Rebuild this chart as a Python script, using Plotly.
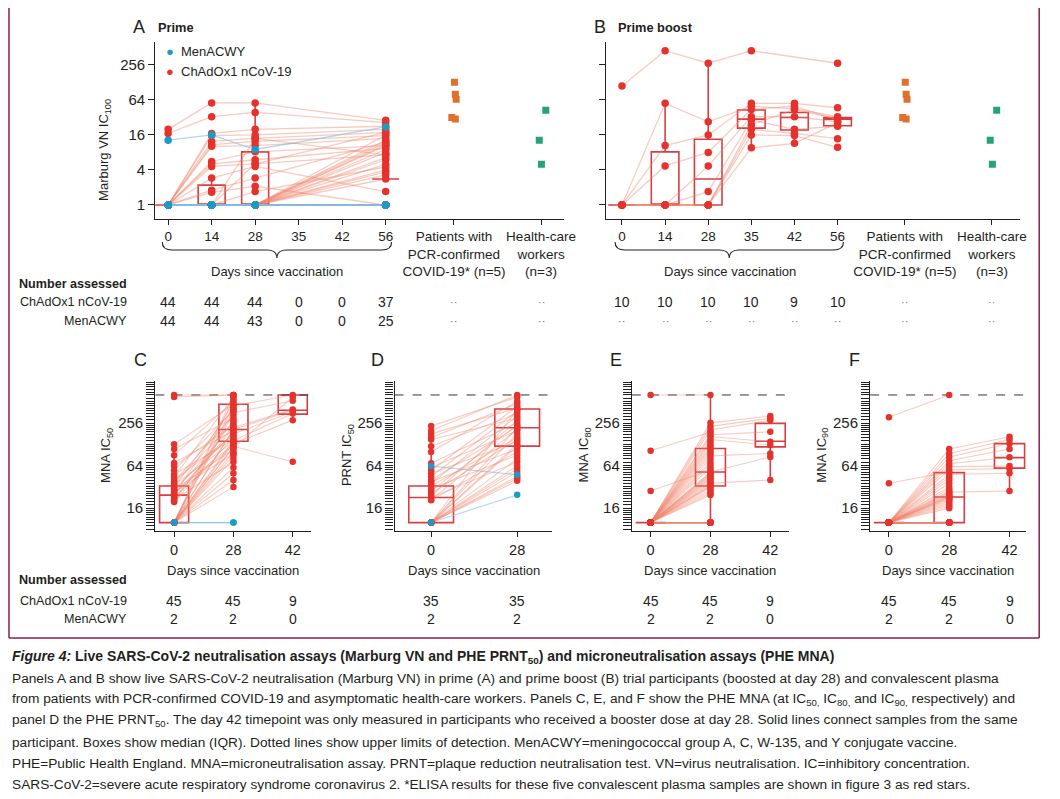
import plotly.graph_objects as go

W, H = 1060, 799
OFF = 8  # page body margin in the browser
FT = "Liberation Sans, Arial, sans-serif"
FN = "Liberation Sans, Arial, sans-serif"
INK = "#231f20"
RED = "#e5322c"
BLUE = "#1d9bc5"
RED_LINE = "rgba(239,130,105,0.42)"
BLUE_LINE = "rgba(120,190,225,0.6)"
BOX_RED = "rgba(212,40,45,0.9)"
ORANGE = "#e0702b"
GREEN = "#25a27a"
FRAME = "#8d1d4c"

# ============================ DATA ============================
# ---- Panel A: prime, Marburg VN IC100 (one entry per participant)
a_days = ["0", "14", "28", "35", "42", "56"]
conv_groups = ["Patients with<br>PCR-confirmed<br>COVID-19* (n=5)", "Health-care<br>workers<br>(n=3)"]

a_chad_d0 = [20, 17, 1, 1, 1, 1, 1, 1, 1, 1,
             1, 1, 1, 1, 1, 1, 1, 1, 1, 1,
             1, 1, 1, 1, 1, 1, 1, 1, 1, 1,
             1, 1, 1, 1, 1, 1, 1, 1, 1, 1,
             1, 1, 1, 1]
a_chad_d14 = [57, 33, 17, 15.6, 12.4, 10.9, 10.2, 5.6, 5.1, 4.6,
              2.9, 1.8, 1.65, 1, 1, 1, 1, 1, 1, 1,
              1, 1, 1, 1, 1, 1, 1, 1, 1, 1,
              1, 1, 1, 1, 1, 1, 1, 1, 1, 1,
              1, 1, 1, 1]
a_chad_d28 = [57, 39, 20, 16, 14, 12.4, 10.5, 8.2, 6, 5.1,
              4.6, 2.9, 2.1, 1.7, 14, 1, 1, 1, 1, 5.1,
              1, 1, 1, 1, 1, 1, 1, 1, 1, 1,
              1, 1, 1, 1, 1, 1, 1, 1, 1, 1,
              1, 1, 1, 1]
# day 56 measured in the first 37 participants
a_chad_d56 = [28.6, 26, 22.6, 20, 17.8, 15.6, 14, 10.5, 9.4, 7.3,
              1.7, 12, 1, 4.5, 7.3, 10.5, 6, 3.7, 2.8, 17.8,
              5, 8, 11, 13, 16, 9, 4, 6.5, 3.3, 12,
              1, 1, 1, 1, 1, 1, 1]
a_men_d0 = [13, 1, 1, 1, 1, 1, 1, 1]
a_men_d14 = [16, 1, 1, 1, 1, 1, 1, 1]
a_men_d28 = [9, 1, 1, 1, 1, 1, 1]
a_men_d56 = [22, 1, 1, 1, 1]

a_box_days = ["0", "14", "28", "56"]
a_box_q1 = [1, 1, 1, 3.7]
a_box_med = [1, 1, 1, 2.8]
a_box_q3 = [1, 2.2, 8.2, 14.8]
a_box_lo = [1, 1, 1, 3.7]
a_box_hi = [1, 2.9, 57, 14.8]

# convalescent plasma (shared by panels A and B)
conv_pcr = [129, 80, 66, 32, 30]
conv_pcr_jitter = [0.01, 0.03, 0.05, -0.05, 0.03]
conv_hcw = [42.5, 13, 5]
conv_hcw_jitter = [0.11, -0.04, 0.01]

a_n_chad = ["44", "44", "44", "0", "0", "37", "··", "··"]
a_n_men = ["44", "44", "43", "0", "0", "25", "··", "··"]

# ---- Panel B: prime boost, Marburg VN IC100
b_days = ["0", "14", "28", "35", "42", "56"]
b_d0 = [111, 1, 1, 1, 1, 1, 1, 1, 1, 1]
b_d14 = [450, 56, 10.5, 4.7, 1, 1, 1, 1, 1, 1]
b_d28 = [274, 27, 16, 8, 4.7, 1.7, 1, 1, 1, 1]
b_d35 = [450, 50, 56, 44, 33, 29, 24, 20, 16, 9.6]
b_d42 = [None, 45, 56, 50, 33, 20, 44, 17, 15.6, 11.5]
b_d56 = [274, 33, 47, 29, 27, 22.6, 30, 13.8, 9.8, 26]

b_box_q1 = [1, 1, 1, 21, 19.5, 23]
b_box_med = [1, 1, 2.8, 30, 32, 30]
b_box_q3 = [1, 8.2, 13.5, 43, 39, 32]
b_box_lo = [1, 1, 1, 9.6, 11.5, 23]
b_box_hi = [1, 56, 274, 56, 56, 32]

b_n_chad = ["10", "10", "10", "10", "9", "10", "··", "··"]
b_n_men = ["··", "··", "··", "··", "··", "··", "··", "··"]

# ---- Panels C-F (days 0, 28, 42); first 9 participants were boosted (day 42)
cf_days = ["0", "28", "42"]
d_days = ["0", "28"]
ulod = 640

c_d0 = [10, 10, 22, 10, 30, 10, 26, 10, 10,
        640, 600, 128, 110, 90, 70, 63, 55, 48, 44, 40, 38, 36, 34, 32, 29, 28, 27, 25, 24, 23, 21, 20, 19.6,
        10, 10, 10, 10, 10, 10, 10, 10, 10, 10, 10, 10]
c_d28 = [450, 360, 220, 208, 180, 145, 130, 120, 115,
         640, 640, 470, 300, 520, 200, 240, 380, 150, 600, 170, 330, 260, 140, 420, 110, 230, 95, 190, 480, 125, 72, 280, 160,
         400, 135, 210, 640, 560, 100, 90, 80, 60, 50, 40, 32]
c_d42 = [640, 530, 400, 390, 370, 350, 282, 72.5, 600]
c_men_d0 = [10, 10]
c_men_d28 = [10, 10]
c_box = dict(q1=[10, 142, 343], med=[24.5, 208, 390], q3=[33, 474, 640], lo=[10, 32, 282], hi=[128, 640, 640])

d_d0 = [232, 200, 180, 160, 150, 120, 100, 69, 60, 55, 50, 45, 40, 38, 36, 33, 30, 28, 26, 24, 22.7, 21, 20.7,
        10, 10, 10, 10, 10, 10, 10, 10, 10, 10, 10, 10]
d_d28 = [600, 640, 420, 480, 300, 350, 520, 260, 200, 440, 140, 380, 230, 110, 320, 160, 90, 240, 150, 280,
         72, 210, 100, 400, 180, 130, 121, 80, 64, 220, 58, 52, 45, 42, 39]
d_men_d0 = [63, 10]
d_men_d28 = [47.5, 24.7]
d_box = dict(q1=[10, 121], med=[22.7, 220], q3=[33, 405], lo=[10, 39], hi=[232, 640])

e_d0 = [10, 10, 10, 10, 10, 10, 10, 10, 10,
        640, 104, 28, 10, 10, 10, 10, 10, 10, 10, 10, 10, 10, 10, 10, 10, 10, 10, 10, 10, 10,
        10, 10, 10, 10, 10, 10, 10, 10, 10, 10, 10, 10, 10, 10, 10]
e_d28 = [258, 230, 205, 175, 165, 150, 88, 52, 36,
         640, 190, 56, 140, 130, 120, 112, 104, 96, 80, 72, 66, 60, 50, 48, 46, 44, 42, 40, 38,
         34, 33, 32, 30, 28, 26, 24.5, 10, 10, 10, 10, 10, 10, 10, 10, 10]
e_d42 = [322, 300, 280, 193, 139, 125, 95, 85, 40]
e_men_d0 = [10, 10]
e_men_d28 = [10, 10]
e_box = dict(q1=[10, 33, 118], med=[10, 52, 142], q3=[10, 112, 254], lo=[10, 10, 40], hi=[10, 640, 322])

f_d0 = [10, 10, 10, 10, 10, 10, 10, 10, 10,
        309, 36, 10, 10, 10, 10, 10, 10, 10, 10, 10, 10, 10, 10, 10, 10, 10, 10, 10, 10, 10,
        10, 10, 10, 10, 10, 10, 10, 10, 10, 10, 10, 10, 10, 10, 10]
f_d28 = [110, 95, 85, 75, 68, 62, 56, 48, 27,
         640, 52, 44, 40, 36, 32, 30, 28, 26, 25, 24, 23.5, 23, 22.5, 22, 21, 20, 19, 18, 17, 16,
         10, 10, 10, 10, 10, 10, 10, 10, 10, 10, 10, 10, 10, 10, 10]
f_d42 = [164, 150, 132, 110, 84, 63, 58, 50, 28]
f_men_d0 = [10, 10]
f_men_d28 = [10, 10]
f_box = dict(q1=[10, 10, 59], med=[10, 23, 83], q3=[10, 51, 131], lo=[10, 10, 28], hi=[10, 51, 164])

c_n_chad, c_n_men = ["45", "45", "9"], ["2", "2", "0"]
d_n_chad, d_n_men = ["35", "35"], ["2", "2"]
e_n_chad, e_n_men = ["45", "45", "9"], ["2", "2", "0"]
f_n_chad, f_n_men = ["45", "45", "9"], ["2", "2", "0"]

# ============================ HELPERS ============================
def X(p):
    return (p - OFF) / W


def Y(p):
    return 1 - (p - OFF) / H


def get(col, i):
    return col[i] if i < len(col) else None


def lines_trace(cols, pos, color, width, ax):
    n = max(len(c) for c in cols)
    xs, ys = [], []
    for i in range(n):
        for p, col in zip(pos, cols):
            v = get(col, i)
            if v is not None:
                xs.append(p)
                ys.append(v)
        xs.append(None)
        ys.append(None)
    return go.Scatter(x=xs, y=ys, mode="lines", line=dict(color=color, width=width),
                      xaxis=ax[0], yaxis=ax[1], hoverinfo="skip", showlegend=False)


def dots_trace(cols, pos, color, size, ax, symbol="circle", jitter=None):
    xs, ys = [], []
    for p, col in zip(pos, cols):
        for k, v in enumerate(col):
            if v is not None:
                xs.append(p + (jitter[k] if jitter else 0))
                ys.append(v)
    return go.Scatter(x=xs, y=ys, mode="markers",
                      marker=dict(color=color, size=size, symbol=symbol, line=dict(width=0)),
                      xaxis=ax[0], yaxis=ax[1], hoverinfo="skip", showlegend=False)


def box_trace(pos, q1, med, q3, lo, hi, width, ax):
    return go.Box(x=pos, q1=q1, median=med, q3=q3, lowerfence=lo, upperfence=hi,
                  width=width, fillcolor="rgba(0,0,0,0)", line=dict(color=BOX_RED, width=1.6),
                  whiskerwidth=0, boxpoints=False, xaxis=ax[0], yaxis=ax[1],
                  hoverinfo="skip", showlegend=False)


fig = go.Figure()
annotations = []
shapes = []


def ann(x, y, text, size, family=FT, xanchor="center", xref="paper", color=INK, angle=0):
    annotations.append(dict(x=X(x) if xref == "paper" else x, y=Y(y), xref=xref, yref="paper",
                            text=text, showarrow=False, textangle=angle,
                            font=dict(family=family, size=size, color=color),
                            xanchor=xanchor, yanchor="middle"))


# ============================ PANEL A ============================
axA = ("x", "y")
posA = [0, 1, 2, 3, 4, 5]
gposA = [6.57, 8.57]
ia = {d: i for i, d in enumerate(a_days)}
a_cols_pos = [ia["0"], ia["14"], ia["28"], ia["56"]]
fig.add_trace(lines_trace([a_chad_d0, a_chad_d14, a_chad_d28, a_chad_d56], a_cols_pos, RED_LINE, 1.3, axA))
fig.add_trace(lines_trace([a_men_d0, a_men_d14, a_men_d28, a_men_d56], a_cols_pos, BLUE_LINE, 1.3, axA))
fig.add_trace(box_trace([ia[d] for d in a_box_days], a_box_q1, a_box_med, a_box_q3, a_box_lo, a_box_hi, 0.62, axA))
fig.add_trace(dots_trace([a_chad_d0, a_chad_d14, a_chad_d28, a_chad_d56], a_cols_pos, RED, 7.5, axA))
fig.add_trace(dots_trace([a_men_d0, a_men_d14, a_men_d28, a_men_d56], a_cols_pos, BLUE, 7.5, axA))
fig.add_trace(dots_trace([conv_pcr], [gposA[0]], ORANGE, 7, axA, "square", conv_pcr_jitter))
fig.add_trace(dots_trace([conv_hcw], [gposA[1]], GREEN, 7, axA, "square", conv_hcw_jitter))

# ============================ PANEL B ============================
axB = ("x2", "y2")
posB = [0, 1, 2, 3, 4, 5]
gposB = [6.56, 8.58]
b_cols = [b_d0, b_d14, b_d28, b_d35, b_d42, b_d56]
fig.add_trace(lines_trace(b_cols, posB, RED_LINE, 1.3, axB))
fig.add_trace(box_trace(posB, b_box_q1, b_box_med, b_box_q3, b_box_lo, b_box_hi, 0.64, axB))
fig.add_trace(dots_trace(b_cols, posB, RED, 7.5, axB))
fig.add_trace(dots_trace([conv_pcr], [gposB[0]], ORANGE, 7, axB, "square", conv_pcr_jitter))
fig.add_trace(dots_trace([conv_hcw], [gposB[1]], GREEN, 7, axB, "square", conv_hcw_jitter))

# ============================ PANELS C-F ============================
bottom = [
    ("x3", "y3", [c_d0, c_d28, c_d42], [c_men_d0, c_men_d28], c_box, cf_days, 0.49, True, [-0.317, 2.3]),
    ("x4", "y4", [d_d0, d_d28], [d_men_d0, d_men_d28], d_box, d_days, 0.52, True, [-0.425, 1.402]),
    ("x5", "y5", [e_d0, e_d28, e_d42], [e_men_d0, e_men_d28], e_box, cf_days, 0.5, False, [-0.314, 2.314]),
    ("x6", "y6", [f_d0, f_d28, f_d42], [f_men_d0, f_men_d28], f_box, cf_days, 0.5, False, [-0.311, 2.279]),
]
for xa, ya, cols, mcols, bx, days, bw, men_top, xr in bottom:
    ax = (xa, ya)
    pos = list(range(len(days)))
    fig.add_trace(go.Scatter(x=xr, y=[ulod, ulod], mode="lines",
                             line=dict(color="#333333", width=1, dash="dash"),
                             xaxis=xa, yaxis=ya, hoverinfo="skip", showlegend=False))
    fig.add_trace(lines_trace(mcols, pos[:len(mcols)], BLUE_LINE, 1.1, ax))
    fig.add_trace(lines_trace(cols, pos, RED_LINE, 1.1, ax))
    fig.add_trace(box_trace(pos, bx["q1"], bx["med"], bx["q3"], bx["lo"], bx["hi"], bw, ax))
    if not men_top:
        fig.add_trace(dots_trace(mcols, pos[:len(mcols)], BLUE, 6.5, ax))
    fig.add_trace(dots_trace(cols, pos, RED, 6.5, ax))
    if men_top:
        fig.add_trace(dots_trace(mcols, pos[:len(mcols)], BLUE, 6.5, ax))

# ============================ AXES ============================
top_y = [Y(219), Y(42)]
bot_y = [Y(531), Y(381)]
line_kw = dict(showline=True, linecolor=INK, linewidth=1.2, showgrid=False, zeroline=False,
               ticks="outside", tickcolor=INK, tickwidth=1.2)

top_ylog = dict(type="log", range=[-0.241, 2.803], tickvals=[1, 4, 16, 64, 256],
                ticktext=["1", "4", "16", "64", "256"], ticklen=6,
                tickfont=dict(family=FN, size=15, color=INK), **line_kw)

minor_vals = [2 ** m * (8 + j) / 8 for m in range(3, 10) for j in range(8)]
bot_ylog = dict(type="log", range=[0.881, 3.004], tickvals=[16, 64, 256],
                ticktext=["16", "64", "256"], ticklen=8,
                minor=dict(tickmode="array", tickvals=minor_vals, ticklen=8, ticks="outside",
                           tickcolor=INK, tickwidth=1),
                tickfont=dict(family=FN, size=15, color=INK), **line_kw)

layout_axes = dict(
    xaxis=dict(domain=[X(157), X(570)], range=[-0.295, 9.09], anchor="y", tickangle=0,
               tickvals=posA + gposA, ticktext=a_days + conv_groups, ticklen=5,
               tickfont=dict(family=FT, size=13.5, color=INK), **line_kw),
    yaxis=dict(domain=top_y, anchor="x", **top_ylog),
    xaxis2=dict(domain=[X(613), X(1032)], range=[-0.367, 9.24], anchor="y2", tickangle=0,
                tickvals=posB + gposB, ticktext=b_days + conv_groups, ticklen=5,
                tickfont=dict(family=FT, size=13.5, color=INK), **line_kw),
    yaxis2=dict(domain=top_y, anchor="x2", showticklabels=False, **top_ylog),
)
bot_dom = [(157, 314), (399, 558), (639, 798), (880, 1038)]
for k, (xa, ya, cols, mcols, bx, days, bw, men_top, xr) in enumerate(bottom):
    n = xa[1:]
    layout_axes["xaxis" + n] = dict(domain=[X(bot_dom[k][0]), X(bot_dom[k][1])], range=xr, anchor=ya,
                                   tickvals=list(range(len(days))), ticktext=days, ticklen=5, tickangle=0,
                                   tickfont=dict(family=FN, size=14.5, color=INK), **line_kw)
    layout_axes["yaxis" + n] = dict(domain=bot_y, anchor=xa, **bot_ylog)

# ============================ TEXT ============================
# panel titles
ann(141, 27, "A", 18, FN)
ann(158, 27, "<b>Prime</b>", 12.8, xanchor="left")
ann(607, 27, "B", 18, FN)
ann(623, 27, "<b>Prime boost</b>", 12.8, xanchor="left")
for lx, letter in zip([142, 382, 623, 864], ["C", "D", "E", "F"]):
    ann(lx, 360, letter, 18, FN)

# legend (panel A)
ann(172, 52, "●", 13, FN, color=BLUE)
ann(172, 71, "●", 13, FN, color=RED)
ann(181, 52, "MenACWY", 13, xanchor="left")
ann(181, 71, "ChAdOx1 nCoV-19", 13, xanchor="left")

# y titles
ann(106, 150, "Marburg VN IC<sub>100</sub>", 13, angle=-90)
for yx, t in zip([107, 351, 591, 831], ["MNA IC<sub>50</sub>", "PRNT IC<sub>50</sub>",
                                       "MNA IC<sub>80</sub>", "MNA IC<sub>90</sub>"]):
    ann(yx, 455, t, 13, angle=-90)

# day labels
ann(280, 271, "Days since vaccination", 13)
ann(738, 271, "Days since vaccination", 13)
for cx in [236, 479, 718, 959]:
    ann(cx, 570, "Days since vaccination", 13)

# number assessed tables
TS = 12.6
ann(130, 284, "<b>Number assessed</b>", TS, xanchor="right")
ann(130, 302, "ChAdOx1 nCoV-19", TS, xanchor="right")
ann(130, 321, "MenACWY", TS, xanchor="right")
for xref, pos, nc, nm in [("x", posA + gposA, a_n_chad, a_n_men), ("x2", posB + gposB, b_n_chad, b_n_men)]:
    for p, v1, v2 in zip(pos, nc, nm):
        ann(p, 302, v1, 14 if v1 != "··" else 11, FN, xref=xref, color=INK if v1 != "··" else "#777")
        ann(p, 321, v2, 14 if v2 != "··" else 11, FN, xref=xref, color=INK if v2 != "··" else "#777")

ann(130, 580, "<b>Number assessed</b>", TS, xanchor="right")
ann(130, 601, "ChAdOx1 nCoV-19", TS, xanchor="right")
ann(130, 619, "MenACWY", TS, xanchor="right")
for xref, nc, nm in [("x3", c_n_chad, c_n_men), ("x4", d_n_chad, d_n_men),
                     ("x5", e_n_chad, e_n_men), ("x6", f_n_chad, f_n_men)]:
    for p, (v1, v2) in enumerate(zip(nc, nm)):
        ann(p, 601, v1, 14, FN, xref=xref)
        ann(p, 619, v2, 14, FN, xref=xref)

# caption
caption = [
    "<b><i>Figure 4:</i> Live SARS-CoV-2 neutralisation assays (Marburg VN and PHE PRNT<sub>50</sub>) and microneutralisation assays (PHE MNA)</b>",
    "Panels A and B show live SARS-CoV-2 neutralisation (Marburg VN) in prime (A) and prime boost (B) trial participants (boosted at day 28) and convalescent plasma",
    "from patients with PCR-confirmed COVID-19 and asymptomatic health-care workers. Panels C, E, and F show the PHE MNA (at IC<sub>50,</sub> IC<sub>80,</sub> and IC<sub>90,</sub> respectively) and",
    "panel D the PHE PRNT<sub>50</sub>. The day 42 timepoint was only measured in participants who received a booster dose at day 28. Solid lines connect samples from the same",
    "participant. Boxes show median (IQR). Dotted lines show upper limits of detection. MenACWY=meningococcal group A, C, W-135, and Y conjugate vaccine.",
    "PHE=Public Health England. MNA=microneutralisation assay. PRNT=plaque reduction neutralisation test. VN=virus neutralisation. IC=inhibitory concentration.",
    "SARS-CoV-2=severe acute respiratory syndrome coronavirus 2. *ELISA results for these five convalescent plasma samples are shown in figure 3 as red stars.",
]
for k, line in enumerate(caption):
    ann(10, 657 + k * 21.3, line, 14 if k == 0 else 13.7, xanchor="left")

# ============================ SHAPES ============================
def brace(x0, x1, ytop, depth=8, tip=8, r=10):
    xm = (x0 + x1) / 2
    yb = ytop + depth
    pts = [
        f"M {X(x0)},{Y(ytop)}",
        f"Q {X(x0)},{Y(yb)} {X(x0 + r)},{Y(yb)}",
        f"L {X(xm - r)},{Y(yb)}",
        f"Q {X(xm)},{Y(yb)} {X(xm)},{Y(yb + tip)}",
        f"Q {X(xm)},{Y(yb)} {X(xm + r)},{Y(yb)}",
        f"L {X(x1 - r)},{Y(yb)}",
        f"Q {X(x1)},{Y(yb)} {X(x1)},{Y(ytop)}",
    ]
    return dict(type="path", path=" ".join(pts), xref="paper", yref="paper",
                line=dict(color=INK, width=1.1))


shapes.append(brace(164, 396, 242))
shapes.append(brace(622, 853, 242))
for sx0, sy0, sx1, sy1 in [(9, 8, 9, 638), (9, 638, 1051, 638), (1051, 8, 1051, 638)]:
    shapes.append(dict(type="line", xref="paper", yref="paper", x0=X(sx0), y0=Y(sy0), x1=X(sx1), y1=Y(sy1),
                       line=dict(color=FRAME, width=1.5)))

fig.update_layout(
    width=W, height=H, margin=dict(l=0, r=0, t=0, b=0),
    paper_bgcolor="white", plot_bgcolor="white", showlegend=False,
    annotations=annotations, shapes=shapes, **layout_axes,
)
fig.write_html("out.html")
